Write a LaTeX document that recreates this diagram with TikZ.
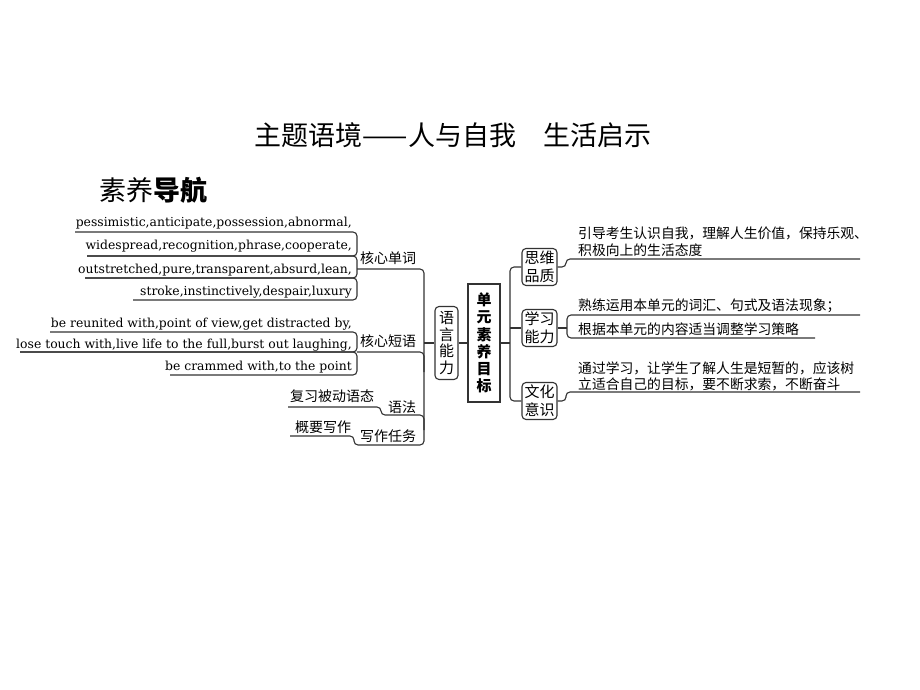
\documentclass[tikz,border=0pt]{standalone}
\usepackage{fontspec}
\setmainfont{DejaVu Serif}
\newfontfamily\cjk{Noto Sans CJK SC}
\usetikzlibrary{calc}
\begin{document}
\begin{tikzpicture}[x=1pt,y=-1pt,
  ln/.style={draw=black!80, line width=1.1pt, rounded corners=4pt},
  en/.style={inner sep=0pt, font=\fontsize{12.4}{14}\selectfont, anchor=base east},
  zh/.style={inner sep=0pt, font=\cjk\fontsize{14}{16}\selectfont, anchor=base west},
  zhr/.style={inner sep=0pt, font=\cjk\fontsize{13.8}{16}\selectfont, anchor=base west},
  vbox/.style={draw=black!80, line width=1.1pt, rounded corners=4pt, inner sep=0pt, align=center,
    minimum width=35pt, minimum height=37pt, font=\cjk\fontsize{15}{18}\selectfont},
]
\useasboundingbox[fill=white] (0,0) rectangle (920,690);

% titles
\node[inner sep=0pt, font=\cjk\fontsize{27}{30}\selectfont] (title) at (453,135) {主题语境——人与自我　生活启示};
\node[inner sep=0pt, anchor=west, font=\cjk\fontsize{27}{30}\selectfont] (nav) at (99,190) {素养{\bfseries 导航}};

% core words
\node[en] (w1) at (352,226) {pessimistic,anticipate,possession,abnormal,};
\node[en] (w2) at (352,249) {widespread,recognition,phrase,cooperate,};
\node[en] (w3) at (352,273) {outstretched,pure,transparent,absurd,lean,};
\node[en] (w4) at (352,295) {stroke,instinctively,despair,luxury};
\draw[ln] (75,232) -- (357,232) -- (357,256) -- (87,256);
\draw[ln] (87,256) -- (357,256) -- (357,278) -- (85,278);
\draw[ln] (85,278) -- (357,278) -- (357,300) -- (133,300);
\node[zh] (hxdc) at (360,263) {核心单词};

% core phrases
\node[en] (p1) at (352,327) {be reunited with,point of view,get distracted by,};
\node[en] (p2) at (352,348) {lose touch with,live life to the full,burst out laughing,};
\node[en] (p3) at (352,370) {be crammed with,to the point};
\draw[ln] (50,332) -- (357,332) -- (357,352) -- (20,352);
\draw[ln] (20,352) -- (357,352) -- (357,375) -- (170,375);
\node[zh] (hxdy) at (360,346) {核心短语};

% grammar / writing
\node[zh] (fx) at (290,401) {复习被动语态};
\node[zh] (yf) at (388,412) {语法};
\node[zh] (gy) at (295,432) {概要写作};
\node[zh] (xz) at (360,441) {写作任务};

% main left trunk
\draw[ln] (357,269) -- (424,269) -- (424,445) -- (354,445) -- (354,436) -- (290,436);
\draw[ln] (357,352) -- (424,352) -- (424,372);
\draw[ln] (288,407) -- (381,407) -- (381,415) -- (424,415) -- (424,430);

% central boxes
\node[vbox, minimum width=23pt, minimum height=73pt, font=\cjk\fontsize{15}{16.5}\selectfont] (yy) at (446.5,343) {语\\言\\能\\力};
\node[draw=black!80, line width=1.5pt, inner sep=0pt, align=center, minimum width=32pt, minimum height=118pt,
  font=\cjk\bfseries\fontsize{15}{17.2}\selectfont] (dy) at (484,343) {单\\元\\素\\养\\目\\标};
\draw[ln] (424,343) -- (yy.west);
\draw[ln] (yy.east) -- (dy.west);

% right boxes
\node[vbox] (sw) at (539.5,267) {思维\\品质};
\node[vbox] (xx) at (539.5,328) {学习\\能力};
\node[vbox] (wh) at (539.5,401) {文化\\意识};
\draw[ln] (dy.east) -- (510,343);
\draw[ln] (sw.west) -- (510,267) -- (510,401) -- (wh.west);
\draw[ln] (510,328) -- (xx.west);

% right texts
\node[zhr] (t1) at (578,238) {引导考生认识自我，理解人生价值，保持乐观、};
\node[zhr] (t2) at (578,255) {积极向上的生活态度};
\draw[ln] (sw.east) -- (566,267) -- (566,259) -- (860,259);

\node[zhr] (t3) at (578,310) {熟练运用本单元的词汇、句式及语法现象；};
\node[zhr] (t4) at (578,334) {根据本单元的内容适当调整学习策略};
\draw[ln] (xx.east) -- (567,328);
\draw[ln] (860,315) -- (567,315) -- (567,338) -- (815,338);

\node[zhr] (t5) at (578,373) {通过学习，让学生了解人生是短暂的，应该树};
\node[zhr] (t6) at (578,389) {立适合自己的目标，要不断求索，不断奋斗};
\draw[ln] (wh.east) -- (566,401) -- (566,392) -- (860,392);
\end{tikzpicture}
\end{document}
